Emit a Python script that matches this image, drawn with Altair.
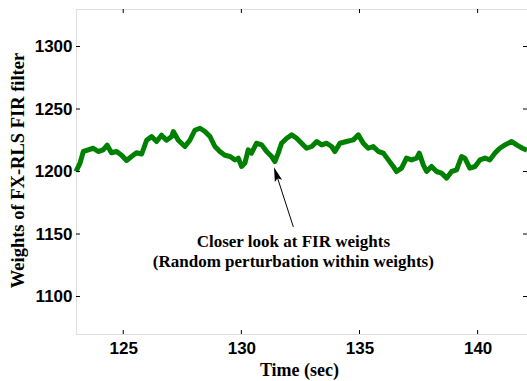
import altair as alt
import pandas as pd

# Time axis (seconds) and FX-RLS FIR filter weight trace
time_sec = [
    123.00, 123.17, 123.31, 123.52, 123.73, 123.94, 124.15, 124.32, 124.50, 124.72,
    124.93, 125.14, 125.35, 125.56, 125.78, 125.99, 126.20, 126.41, 126.62, 126.83,
    127.05, 127.12, 127.33, 127.61, 127.82, 128.03, 128.25, 128.46, 128.67, 128.88,
    129.09, 129.30, 129.52, 129.73, 129.87, 130.01, 130.15, 130.29, 130.43, 130.64,
    130.86, 131.07, 131.28, 131.42, 131.56, 131.70, 131.92, 132.13, 132.34, 132.55,
    132.76, 132.98, 133.19, 133.40, 133.61, 133.82, 133.96, 134.17, 134.45, 134.74,
    134.95, 135.16, 135.37, 135.58, 135.80, 136.01, 136.22, 136.43, 136.57, 136.78,
    136.99, 137.20, 137.42, 137.53, 137.70, 137.84, 138.05, 138.26, 138.47, 138.69,
    138.90, 139.11, 139.32, 139.46, 139.67, 139.89, 140.10, 140.31, 140.52, 140.73,
    140.94, 141.16, 141.44, 141.65, 141.90, 142.09,
]
weights = [
    1200.0, 1206.7, 1216.0, 1217.3, 1218.6, 1216.0, 1217.3, 1221.0, 1215.0, 1216.0,
    1213.0, 1208.8, 1212.0, 1215.0, 1214.0, 1225.0, 1228.0, 1224.0, 1229.0, 1225.0,
    1228.0, 1232.0, 1225.0, 1220.0, 1225.0, 1233.0, 1234.6, 1232.0, 1228.0, 1220.0,
    1216.0, 1213.0, 1212.0, 1209.3, 1210.7, 1204.0, 1206.7, 1217.3, 1214.7, 1222.6,
    1221.3, 1216.0, 1212.0, 1208.0, 1214.7, 1222.6, 1226.6, 1229.3, 1226.6, 1222.6,
    1218.6, 1220.0, 1224.0, 1221.3, 1222.6, 1220.0, 1216.0, 1222.6, 1224.0, 1225.3,
    1229.3, 1222.6, 1218.6, 1220.0, 1216.0, 1214.7, 1209.3, 1204.0, 1200.0, 1202.7,
    1210.7, 1209.3, 1210.7, 1214.7, 1205.3, 1200.0, 1204.0, 1200.0, 1198.7, 1194.7,
    1200.0, 1201.3, 1212.0, 1210.7, 1202.7, 1204.0, 1209.3, 1210.7, 1209.3, 1214.7,
    1218.6, 1221.3, 1224.0, 1221.3, 1218.6, 1217.0,
]

x_ticks = [125, 130, 135, 140]
y_ticks = [1100, 1150, 1200, 1250, 1300]
x_domain = [123.0, 142.09]
y_domain = [1070, 1330]

note_lines = ["Closer look at FIR weights", "(Random perturbation within weights)"]
note_pos = {"x": 132.2, "y": 1144.0}
arrow_tail = {"x": 132.2, "y": 1155.7}
arrow_tip = {"x": 131.45, "y": 1199.5}
arrow_head = {"x": 131.48, "y": 1197.7}

W, H = 451, 325
serif = "Liberation Serif"
sans = "Liberation Sans"

df = pd.DataFrame({"t": time_sec, "w": weights})

xs = alt.Scale(domain=x_domain, nice=False, zero=False)
ys = alt.Scale(domain=y_domain, nice=False, zero=False)

trace = alt.Chart(df).mark_line(color="#008000", strokeWidth=5, strokeJoin="round").encode(
    x=alt.X("t:Q", scale=xs, axis=alt.Axis(
        values=x_ticks, format="d", title="Time (sec)", grid=False, domain=False,
        ticks=False, labelFont=sans, labelFontWeight="bold", labelFontSize=17,
        labelColor="black", labelPadding=6, titleFont=serif, titleFontWeight="bold",
        titleFontSize=18, titleColor="black", titleX=223, titleY=36,
        titleBaseline="middle")),
    y=alt.Y("w:Q", scale=ys, axis=alt.Axis(
        values=y_ticks, format="d", title="Weights of FX-RLS FIR filter", grid=False,
        domain=False, ticks=False, labelFont=sans, labelFontWeight="bold",
        labelFontSize=17, labelColor="black", labelPadding=4, titleFont=serif,
        titleFontWeight="bold", titleFontSize=18.5, titleColor="black", titleX=-59,
        titleY=161, titleBaseline="middle", titleAngle=270)),
)

# inward-pointing tick marks on all four sides of the frame
xt = pd.DataFrame({"t": x_ticks})
yt = pd.DataFrame({"w": y_ticks})
tick_len = 4
bottom_ticks = alt.Chart(xt).mark_rule(color="black").encode(
    x=alt.X("t:Q", scale=xs), y=alt.value(H), y2=alt.value(H - tick_len))
top_ticks = alt.Chart(xt).mark_rule(color="black").encode(
    x=alt.X("t:Q", scale=xs), y=alt.value(0), y2=alt.value(tick_len))
left_ticks = alt.Chart(yt).mark_rule(color="black").encode(
    y=alt.Y("w:Q", scale=ys), x=alt.value(0), x2=alt.value(tick_len))
right_ticks = alt.Chart(yt).mark_rule(color="black").encode(
    y=alt.Y("w:Q", scale=ys), x=alt.value(W), x2=alt.value(W - tick_len))

# annotation arrow and text
shaft = alt.Chart(pd.DataFrame({
    "x": [arrow_tail["x"]], "y": [arrow_tail["y"]],
    "x2": [arrow_tip["x"]], "y2": [arrow_tip["y"]]})).mark_rule(
    color="black", strokeWidth=1).encode(
    x=alt.X("x:Q", scale=xs), y=alt.Y("y:Q", scale=ys), x2="x2:Q", y2="y2:Q")

head = alt.Chart(pd.DataFrame([arrow_head])).mark_point(
    shape="M0,-1 L0.5,0.9 L0,0.55 L-0.5,0.9 Z", filled=True, color="black",
    opacity=1, size=230, angle=342).encode(
    x=alt.X("x:Q", scale=xs), y=alt.Y("y:Q", scale=ys))

note = alt.Chart(pd.DataFrame([note_pos])).mark_text(
    text=note_lines, font=serif, fontWeight="bold", fontSize=17, color="black",
    lineHeight=20, align="center", baseline="middle").encode(
    x=alt.X("x:Q", scale=xs), y=alt.Y("y:Q", scale=ys))

chart = alt.layer(
    trace, bottom_ticks, top_ticks, left_ticks, right_ticks, shaft, head, note
).properties(
    width=W, height=H,
    autosize=alt.AutoSizeParams(type="none"),
    padding={"left": 76, "top": 9, "right": 0, "bottom": 47},
).configure_view(stroke="black", strokeWidth=1.2).configure(background="white")

chart.save("out.html", embed_options={"renderer": "svg", "actions": False})
